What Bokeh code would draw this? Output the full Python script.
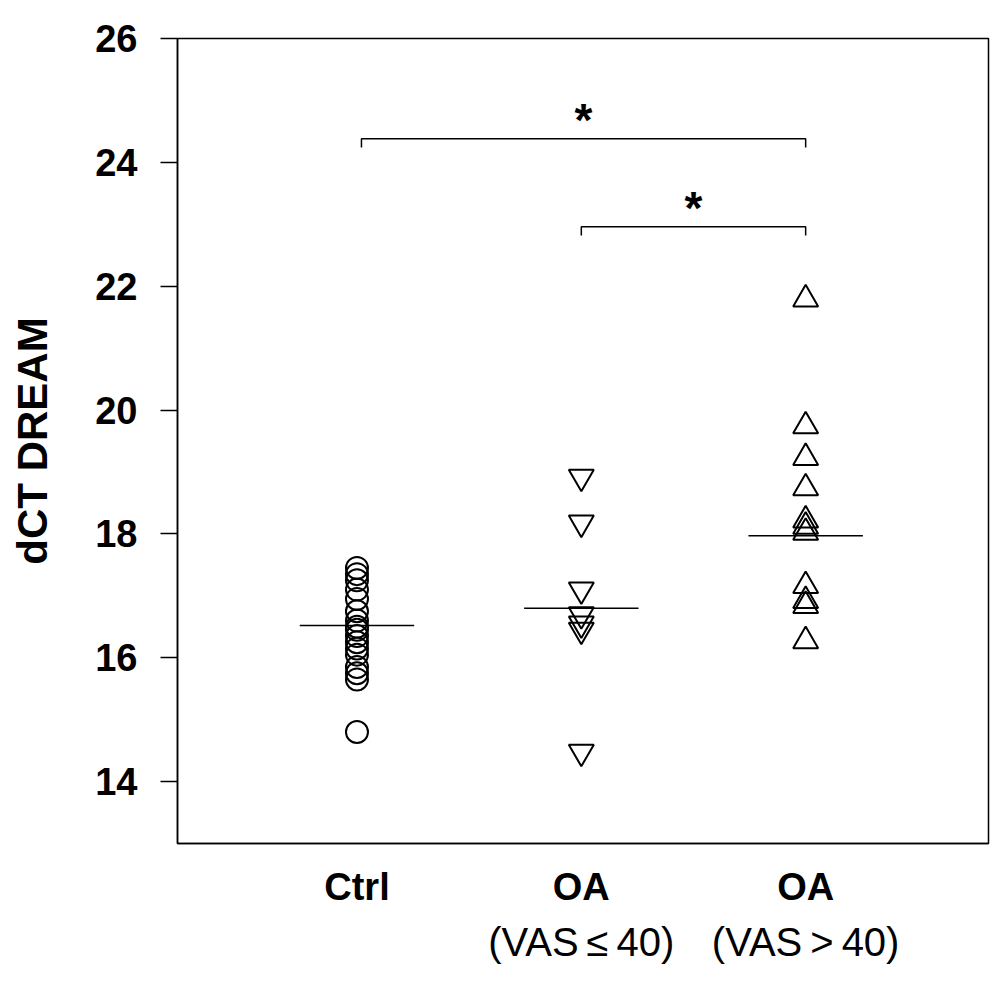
from bokeh.plotting import figure
from bokeh.models import Range1d, FixedTicker, LinearAxis
from bokeh.core.properties import value
from bokeh.embed import file_html
from bokeh.resources import INLINE

# ---- data ----
groups = ["Ctrl", "OA", "OA"]
group_sub = ["", "(VAS\u2009\u2264\u200940)", "(VAS\u2009>\u200940)"]
ctrl = [17.45, 17.35, 17.25, 17.1, 16.95, 16.75, 16.6, 16.5, 16.45, 16.35,
        16.25, 16.15, 16.05, 15.85, 15.75, 15.65, 14.8]
oa_low = [18.92, 18.18, 17.1, 16.7, 16.55, 16.45, 14.48]
oa_high = [21.79, 19.74, 19.23, 18.74, 18.22, 18.12, 18.02, 17.16, 16.92, 16.84, 16.27]
medians = [16.52, 16.8, 17.97]
y_ticks = [14, 16, 18, 20, 22, 24, 26]
brackets_from = [1.02, 2.0]
brackets_to = [3.0, 3.0]
brackets_y = [24.38, 22.96]
star_labels = ["*", "*"]

FONT = "Liberation Sans"

p = figure(width=994, height=976, output_backend="svg", toolbar_location=None,
           x_range=Range1d(0.2, 3.815), y_range=Range1d(13, 26),
           min_border_left=177, min_border_top=38, min_border_right=6,
           min_border_bottom=133)
p.background_fill_color = "white"
p.border_fill_color = "white"
p.outline_line_color = "black"
p.outline_line_width = 1.5
p.grid.visible = False

# y axis
ya = p.yaxis[0]
ya.ticker = FixedTicker(ticks=y_ticks)
ya.major_tick_out = 17
ya.major_tick_in = 0
ya.minor_tick_line_color = None
ya.major_tick_line_width = 1.5
ya.axis_line_width = 1.5
ya.major_label_text_font = FONT
ya.major_label_text_font_style = "bold"
ya.major_label_text_font_size = "38px"
ya.major_label_text_color = "black"
ya.major_label_standoff = 23
ya.axis_label = "dCT DREAM"
ya.axis_label_text_font = FONT
ya.axis_label_text_font_style = "bold"
ya.axis_label_text_font_size = "42px"
ya.axis_label_text_color = "black"
ya.axis_label_standoff = 36

# x axis (bold group names)
xa = p.xaxis[0]
xa.ticker = FixedTicker(ticks=[1, 2, 3])
xa.major_label_overrides = {i + 1: g for i, g in enumerate(groups)}
xa.major_tick_out = 0
xa.major_tick_in = 0
xa.minor_tick_line_color = None
xa.axis_line_width = 1.5
xa.major_label_text_font = FONT
xa.major_label_text_font_style = "bold"
xa.major_label_text_font_size = "38px"
xa.major_label_text_color = "black"
xa.major_label_standoff = 22

# second x axis (sub labels)
xa2 = LinearAxis(ticker=FixedTicker(ticks=[1, 2, 3]),
                 major_label_overrides={i + 1: s for i, s in enumerate(group_sub)})
xa2.axis_line_color = None
xa2.major_tick_line_color = None
xa2.minor_tick_line_color = None
xa2.major_tick_out = 0
xa2.major_tick_in = 0
xa2.major_label_text_font = FONT
xa2.major_label_text_font_size = "40px"
xa2.major_label_text_color = "black"
xa2.major_label_standoff = 9
p.add_layout(xa2, "below")

# points
p.scatter(x=[1] * len(ctrl), y=ctrl, marker="circle", size=22,
          fill_color=None, line_color="black", line_width=2)
p.scatter(x=[2] * len(oa_low), y=oa_low, marker="inverted_triangle", size=25,
          fill_color=None, line_color="black", line_width=2)
p.scatter(x=[3] * len(oa_high), y=oa_high, marker="triangle", size=25,
          fill_color=None, line_color="black", line_width=2)

# median lines
hw = 0.255
p.segment(x0=[i + 1 - hw for i in range(3)], x1=[i + 1 + hw for i in range(3)],
          y0=medians, y1=medians, line_color="black", line_width=1.5)

# significance brackets
d = 0.14
xs = [[a, a, b, b] for a, b in zip(brackets_from, brackets_to)]
ys = [[y - d, y, y, y - d] for y in brackets_y]
p.multi_line(xs=xs, ys=ys, line_color="black", line_width=1.5)
p.text(x=[(a + b) / 2 for a, b in zip(brackets_from, brackets_to)],
       y=[y + 0.31 for y in brackets_y], text=star_labels,
       text_font=value(FONT), text_font_size="46px", text_font_style="bold",
       text_align="center", text_baseline="alphabetic", text_color="black")

open("out.html", "w").write(file_html(p, INLINE))
